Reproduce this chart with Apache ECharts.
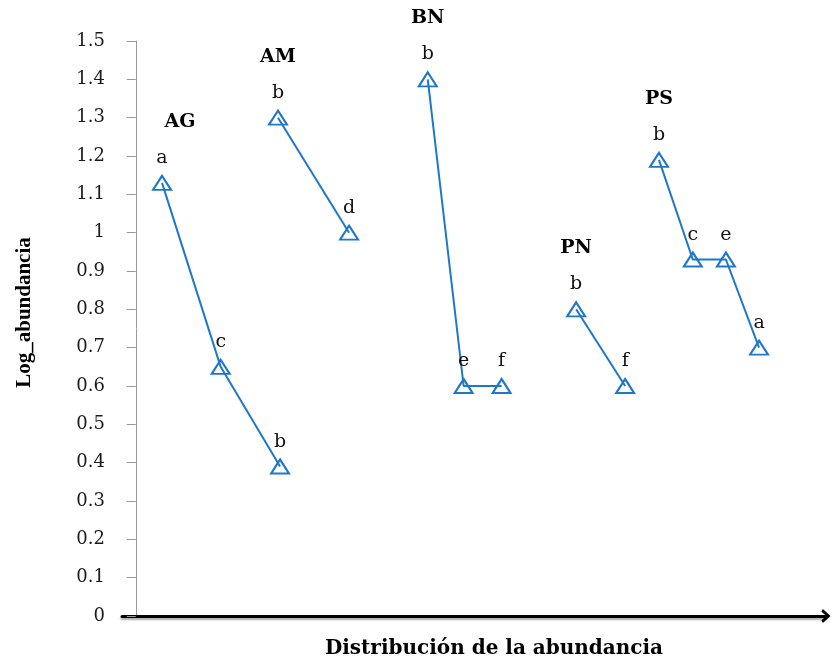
<!DOCTYPE html>
<html>
<head>
<meta charset="utf-8">
<script src="https://cdn.jsdelivr.net/npm/echarts@6/dist/echarts.min.js"></script>
<style>html,body{margin:0;padding:0;background:#fff;}#chart{width:834px;height:658px;}</style>
</head>
<body>
<div id="chart"></div>
<script>
// Groups (sites) and their points: x position along the distribution axis, log abundance, letter
const groups = ['AG', 'AM', 'BN', 'PN', 'PS'];
const agX = [3.8, 12.3, 20.9];
const agY = [1.13, 0.65, 0.39];
const agL = ['a', 'c', 'b'];
const amX = [20.6, 30.9];
const amY = [1.30, 1.00];
const amL = ['b', 'd'];
const bnX = [42.3, 47.5, 53.0];
const bnY = [1.40, 0.60, 0.60];
const bnL = ['b', 'e', 'f'];
const pnX = [63.8, 70.9];
const pnY = [0.80, 0.60];
const pnL = ['b', 'f'];
const psX = [75.8, 80.7, 85.5, 90.3];
const psY = [1.19, 0.93, 0.93, 0.70];
const psL = ['b', 'c', 'e', 'a'];
const yTicks = [0, 0.1, 0.2, 0.3, 0.4, 0.5, 0.6, 0.7, 0.8, 0.9, 1, 1.1, 1.2, 1.3, 1.4, 1.5];

const BLUE = '#1f77c8';
const SERIF = '"DejaVu Serif", "Liberation Serif", serif';

const groupData = [
  [agX, agY, agL],
  [amX, amY, amL],
  [bnX, bnY, bnL],
  [pnX, pnY, pnL],
  [psX, psY, psL]
];

const series = groupData.map(function (g, gi) {
  const xs = g[0], ys = g[1], ls = g[2];
  return {
    type: 'line',
    name: groups[gi],
    data: xs.map(function (x, i) { return [x, ys[i]]; }),
    symbol: 'triangle',
    symbolSize: [18, 14],
    showSymbol: true,
    showAllSymbol: true,
    lineStyle: { color: BLUE, width: 2 },
    itemStyle: { color: 'rgba(255,255,255,0)', borderColor: BLUE, borderWidth: 2 },
    label: {
      show: true,
      position: 'top',
      distance: 6,
      formatter: function (p) {
        const letter = ls[p.dataIndex];
        if (p.dataIndex === 0) {
          return '{' + (gi === 0 ? 'gs' : 'g') + '|' + groups[gi] + '}\n{s|}\n{l|' + letter + '}';
        }
        return '{l|' + letter + '}';
      },
      rich: {
        g: { fontFamily: SERIF, fontWeight: 'bold', fontSize: 19, color: '#000', lineHeight: 22 },
        gs: { fontFamily: SERIF, fontWeight: 'bold', fontSize: 19, color: '#000', lineHeight: 22, padding: [0, 0, 0, 36] },
        s: { lineHeight: 14, fontSize: 10 },
        l: { fontFamily: SERIF, fontSize: 19, color: '#111', lineHeight: 22 }
      }
    },
    emphasis: { disabled: true },
    z: 3
  };
});

const chart = echarts.init(document.getElementById('chart'));
chart.setOption({
  animation: false,
  backgroundColor: '#fff',
  grid: { left: 122, right: 8, top: 41, bottom: 42, containLabel: false, outerBoundsMode: 'none' },
  xAxis: {
    type: 'value',
    min: -2,
    max: 100,
    name: 'Distribución de la abundancia',
    nameLocation: 'middle',
    nameGap: 23,
    nameTextStyle: { fontFamily: SERIF, fontWeight: 'bold', fontSize: 20, color: '#000', padding: [0, 0, 0, 40] },
    axisLine: {
      show: true,
      onZero: false,
      symbol: ['none', 'path://M0,11 L10,0 L20,11 L16,13 L10,6 L4,13 Z'],
      symbolSize: [14, 9],
      lineStyle: { color: '#000', width: 3, shadowColor: 'rgba(0,0,0,0.35)', shadowBlur: 2, shadowOffsetY: 2 }
    },
    axisTick: { show: false },
    axisLabel: { show: false },
    splitLine: { show: false }
  },
  yAxis: {
    type: 'value',
    min: 0,
    max: 1.5,
    interval: 0.1,
    name: 'Log_abundancia',
    nameLocation: 'middle',
    nameGap: 87,
    nameTextStyle: { fontFamily: '"Liberation Serif", serif', fontWeight: 'bold', fontSize: 21, color: '#000', padding: [0, 0, 0, 32] },
    axisLine: { show: true, onZero: true, lineStyle: { color: '#999', width: 1 } },
    axisTick: { show: true, length: 9, lineStyle: { color: '#999' } },
    axisLabel: {
      margin: 17,
      fontFamily: SERIF,
      fontSize: 18,
      color: '#1a1a1a',
      formatter: function (v) {
        const t = yTicks.find(function (k) { return Math.abs(k - v) < 1e-6; });
        return t === undefined ? '' : String(t);
      }
    },
    splitLine: { show: false }
  },
  series: series
});
</script>
</body>
</html>
